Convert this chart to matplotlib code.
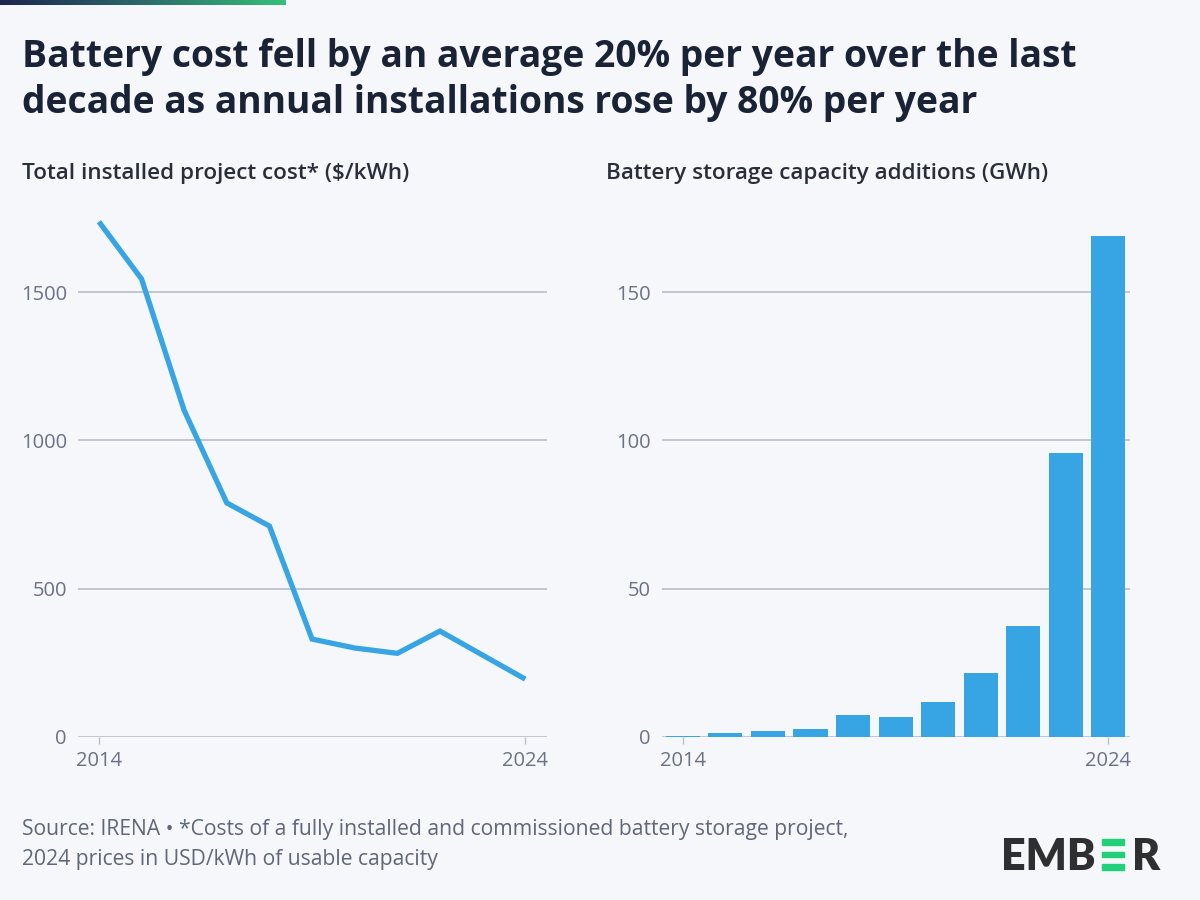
import numpy as np
import matplotlib
matplotlib.use("Agg")
import matplotlib.pyplot as plt
from matplotlib.colors import LinearSegmentedColormap
from matplotlib.patches import Rectangle

# ---- data ----
years = [2014, 2015, 2016, 2017, 2018, 2019, 2020, 2021, 2022, 2023, 2024]
cost_usd_kwh = [1737, 1544, 1101, 789, 711, 330, 300, 282, 357, 276, 195]
capacity_gwh = [0.45, 1.5, 2.0, 2.8, 7.4, 6.9, 11.7, 21.7, 37.4, 95.7, 168.9]
xtick_labels = ["2014", "2024"]
cost_yticks = [0, 500, 1000, 1500]
cap_yticks = [0, 50, 100, 150]

title = "Battery cost fell by an average 20% per year over the last\ndecade as annual installations rose by 80% per year"
sub_left = "Total installed project cost* ($/kWh)"
sub_right = "Battery storage capacity additions (GWh)"
footer = "Source: IRENA • *Costs of a fully installed and commissioned battery storage project,\n2024 prices in USD/kWh of usable capacity"

# ---- style ----
BG = "#f5f7fa"
BLUE = "#37a5e4"
GRID = "#bcc1cc"
TICK = "#6a7284"
TITLE_C = "#1a2236"
SUB_C = "#2a2e38"
FOOT_C = "#5f6778"
FONT = "Open Sans"

plt.rcParams["font.family"] = [FONT, "DejaVu Sans"]

W, H = 1200, 900
fig = plt.figure(figsize=(12, 9), dpi=100, facecolor=BG)

def px(x0, y0, w, h):
    return [x0 / W, 1 - (y0 + h) / H, w / W, h / H]

# top gradient bar
gax = fig.add_axes(px(0, 0, 286, 5))
cmap = LinearSegmentedColormap.from_list("g", ["#1d2550", "#2b6a6a", "#35c07a"])
gax.imshow(np.linspace(0, 1, 256)[None, :], aspect="auto", cmap=cmap, extent=[0, 1, 0, 1])
gax.axis("off")

# title
fig.text(22 / W, 1 - 38 / H, title, fontsize=26.8, fontweight="bold", color=TITLE_C,
         va="top", ha="left", linespacing=1.27)
fig.text(22 / W, 1 - 173 / H, sub_left, fontsize=16.2, fontweight="semibold", color=SUB_C,
         va="center", ha="left")
fig.text(606 / W, 1 - 173 / H, sub_right, fontsize=16.2, fontweight="semibold", color=SUB_C,
         va="center", ha="left")

def style(ax, yticks, ylim):
    ax.set_facecolor(BG)
    for s in ax.spines.values():
        s.set_visible(False)
    ax.set_ylim(*ylim)
    ax.set_yticks(yticks)
    ax.set_yticklabels([str(v) for v in yticks])
    ax.grid(axis="y", color=GRID, linewidth=1.3)
    ax.set_axisbelow(True)
    ax.tick_params(axis="y", length=0, pad=8, labelsize=14.5, labelcolor=TICK)
    ax.tick_params(axis="x", length=5, width=1, color=GRID, pad=5, labelsize=14.5, labelcolor=TICK)
    ax.set_xticks([years[0], years[-1]])
    ax.set_xticklabels(xtick_labels)
    ax.set_xlim(years[0] - 0.49, years[-1] + 0.51)

# left chart
ax1 = fig.add_axes(px(78, 200, 469, 537))
style(ax1, cost_yticks, (0, 537 / (445 / 1500)))
ax1.plot(years, cost_usd_kwh, color=BLUE, linewidth=3.8, solid_joinstyle="miter",
         solid_capstyle="butt", clip_on=False)

# right chart
ax2 = fig.add_axes(px(662, 200, 468, 537))
style(ax2, cap_yticks, (0, 537 / (445 / 150)))
ax2.bar(years, capacity_gwh, width=0.8, color=BLUE, zorder=3)

# footer
fig.text(22 / W, 1 - 819 / H, footer, fontsize=15.2, color=FOOT_C, va="top", ha="left",
         linespacing=1.55)

# EMBER logo
LOGO = "#2e2f31"
GREEN = "#22d07a"
fig.text(1001 / W, 1 - 870 / H, "EMB", fontsize=31, fontweight="heavy", color=LOGO,
         family="Lato", va="baseline", ha="left")
fig.text(1132 / W, 1 - 870 / H, "R", fontsize=31, fontweight="heavy", color=LOGO,
         family="Lato", va="baseline", ha="left")
for yb in (839, 851.5, 864):
    fig.patches.append(Rectangle((1102 / W, 1 - (yb + 5.5) / H), 22 / W, 5.5 / H,
                                 transform=fig.transFigure, color=GREEN))

fig.savefig("out.png", dpi=100, facecolor=BG)
